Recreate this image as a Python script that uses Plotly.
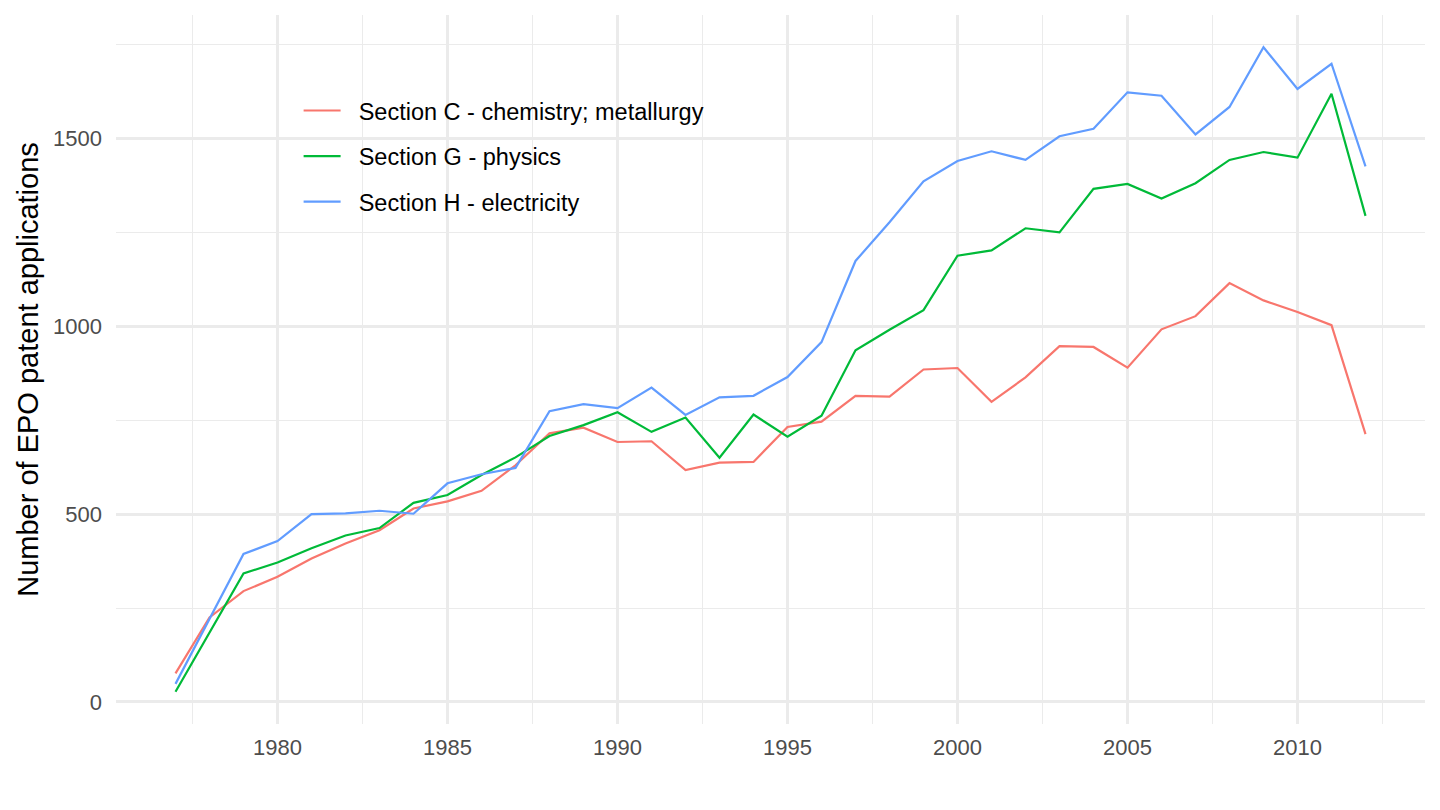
import plotly.graph_objects as go

years = list(range(1977, 2013))

section_c = [76, 225, 295, 333, 382, 422, 457, 515, 534, 562, 630, 715, 730, 692,
             694, 617, 637, 639, 732, 746, 815, 813, 885, 889, 799, 864, 947, 945,
             890, 992, 1027, 1115, 1069, 1038, 1003, 713]
section_g = [27, 185, 342, 371, 409, 443, 463, 530, 551, 604, 651, 708, 737, 771,
             719, 757, 650, 765, 706, 762, 936, 991, 1043, 1188, 1202, 1261, 1250, 1366,
             1379, 1340, 1381, 1443, 1464, 1449, 1619, 1294]
section_h = [48, 221, 394, 428, 500, 502, 509, 501, 582, 606, 623, 774, 793, 782,
             837, 764, 811, 815, 865, 958, 1174, 1277, 1386, 1440, 1466, 1443, 1506, 1526,
             1623, 1614, 1511, 1584, 1743, 1632, 1699, 1426]

series_names = ['Section C - chemistry; metallurgy', 'Section G - physics', 'Section H - electricity']
series_values = [section_c, section_g, section_h]
series_colors = ['#F8766D', '#00BA38', '#619CFF']

fig = go.Figure()
for name, vals, color in zip(series_names, series_values, series_colors):
    fig.add_trace(go.Scatter(
        x=years,
        y=vals,
        # nbsp padding: ggplot leaves a wider gap between key and label
        name='\u00a0\u00a0' + name,
        legendgroup=name,
        mode='lines',
        line=dict(width=2.2, color=color),
    ))

grid = '#EBEBEB'
# the page body adds an 8px offset, so margins are shifted to compensate
fig.update_layout(
    width=1440,
    height=810,
    paper_bgcolor='white',
    plot_bgcolor='white',
    margin=dict(l=108, r=23, t=7, b=94),
    font=dict(family='Liberation Sans, Arial, sans-serif', color='#4D4D4D'),
    legend=dict(
        x=0.1395, y=0.896, xanchor='left', yanchor='top',
        bgcolor='rgba(0,0,0,0)',
        font=dict(size=23.5, color='black'),
        tracegroupgap=12,
        itemwidth=37,
    ),
)
fig.update_xaxes(
    range=[1975.25, 2013.75],
    tick0=1980, dtick=5,
    showgrid=True, gridcolor=grid, gridwidth=2.6,
    minor=dict(tick0=1977.5, dtick=5, showgrid=True, gridcolor=grid, gridwidth=1.4),
    zeroline=False, showline=False, ticks='',
    ticklabelstandoff=8,
    tickfont=dict(size=22, color='#4D4D4D'),
)
fig.update_yaxes(
    range=[-58.8, 1828.8],
    tick0=0, dtick=500,
    showgrid=True, gridcolor=grid, gridwidth=2.6,
    minor=dict(tick0=250, dtick=500, showgrid=True, gridcolor=grid, gridwidth=1.4),
    zeroline=False, showline=False, ticks='',
    ticklabelstandoff=13,
    tickfont=dict(size=22, color='#4D4D4D'),
    title=dict(text='Number of EPO patent applications', font=dict(size=29, color='black'), standoff=5),
)

fig.write_html('out.html')
